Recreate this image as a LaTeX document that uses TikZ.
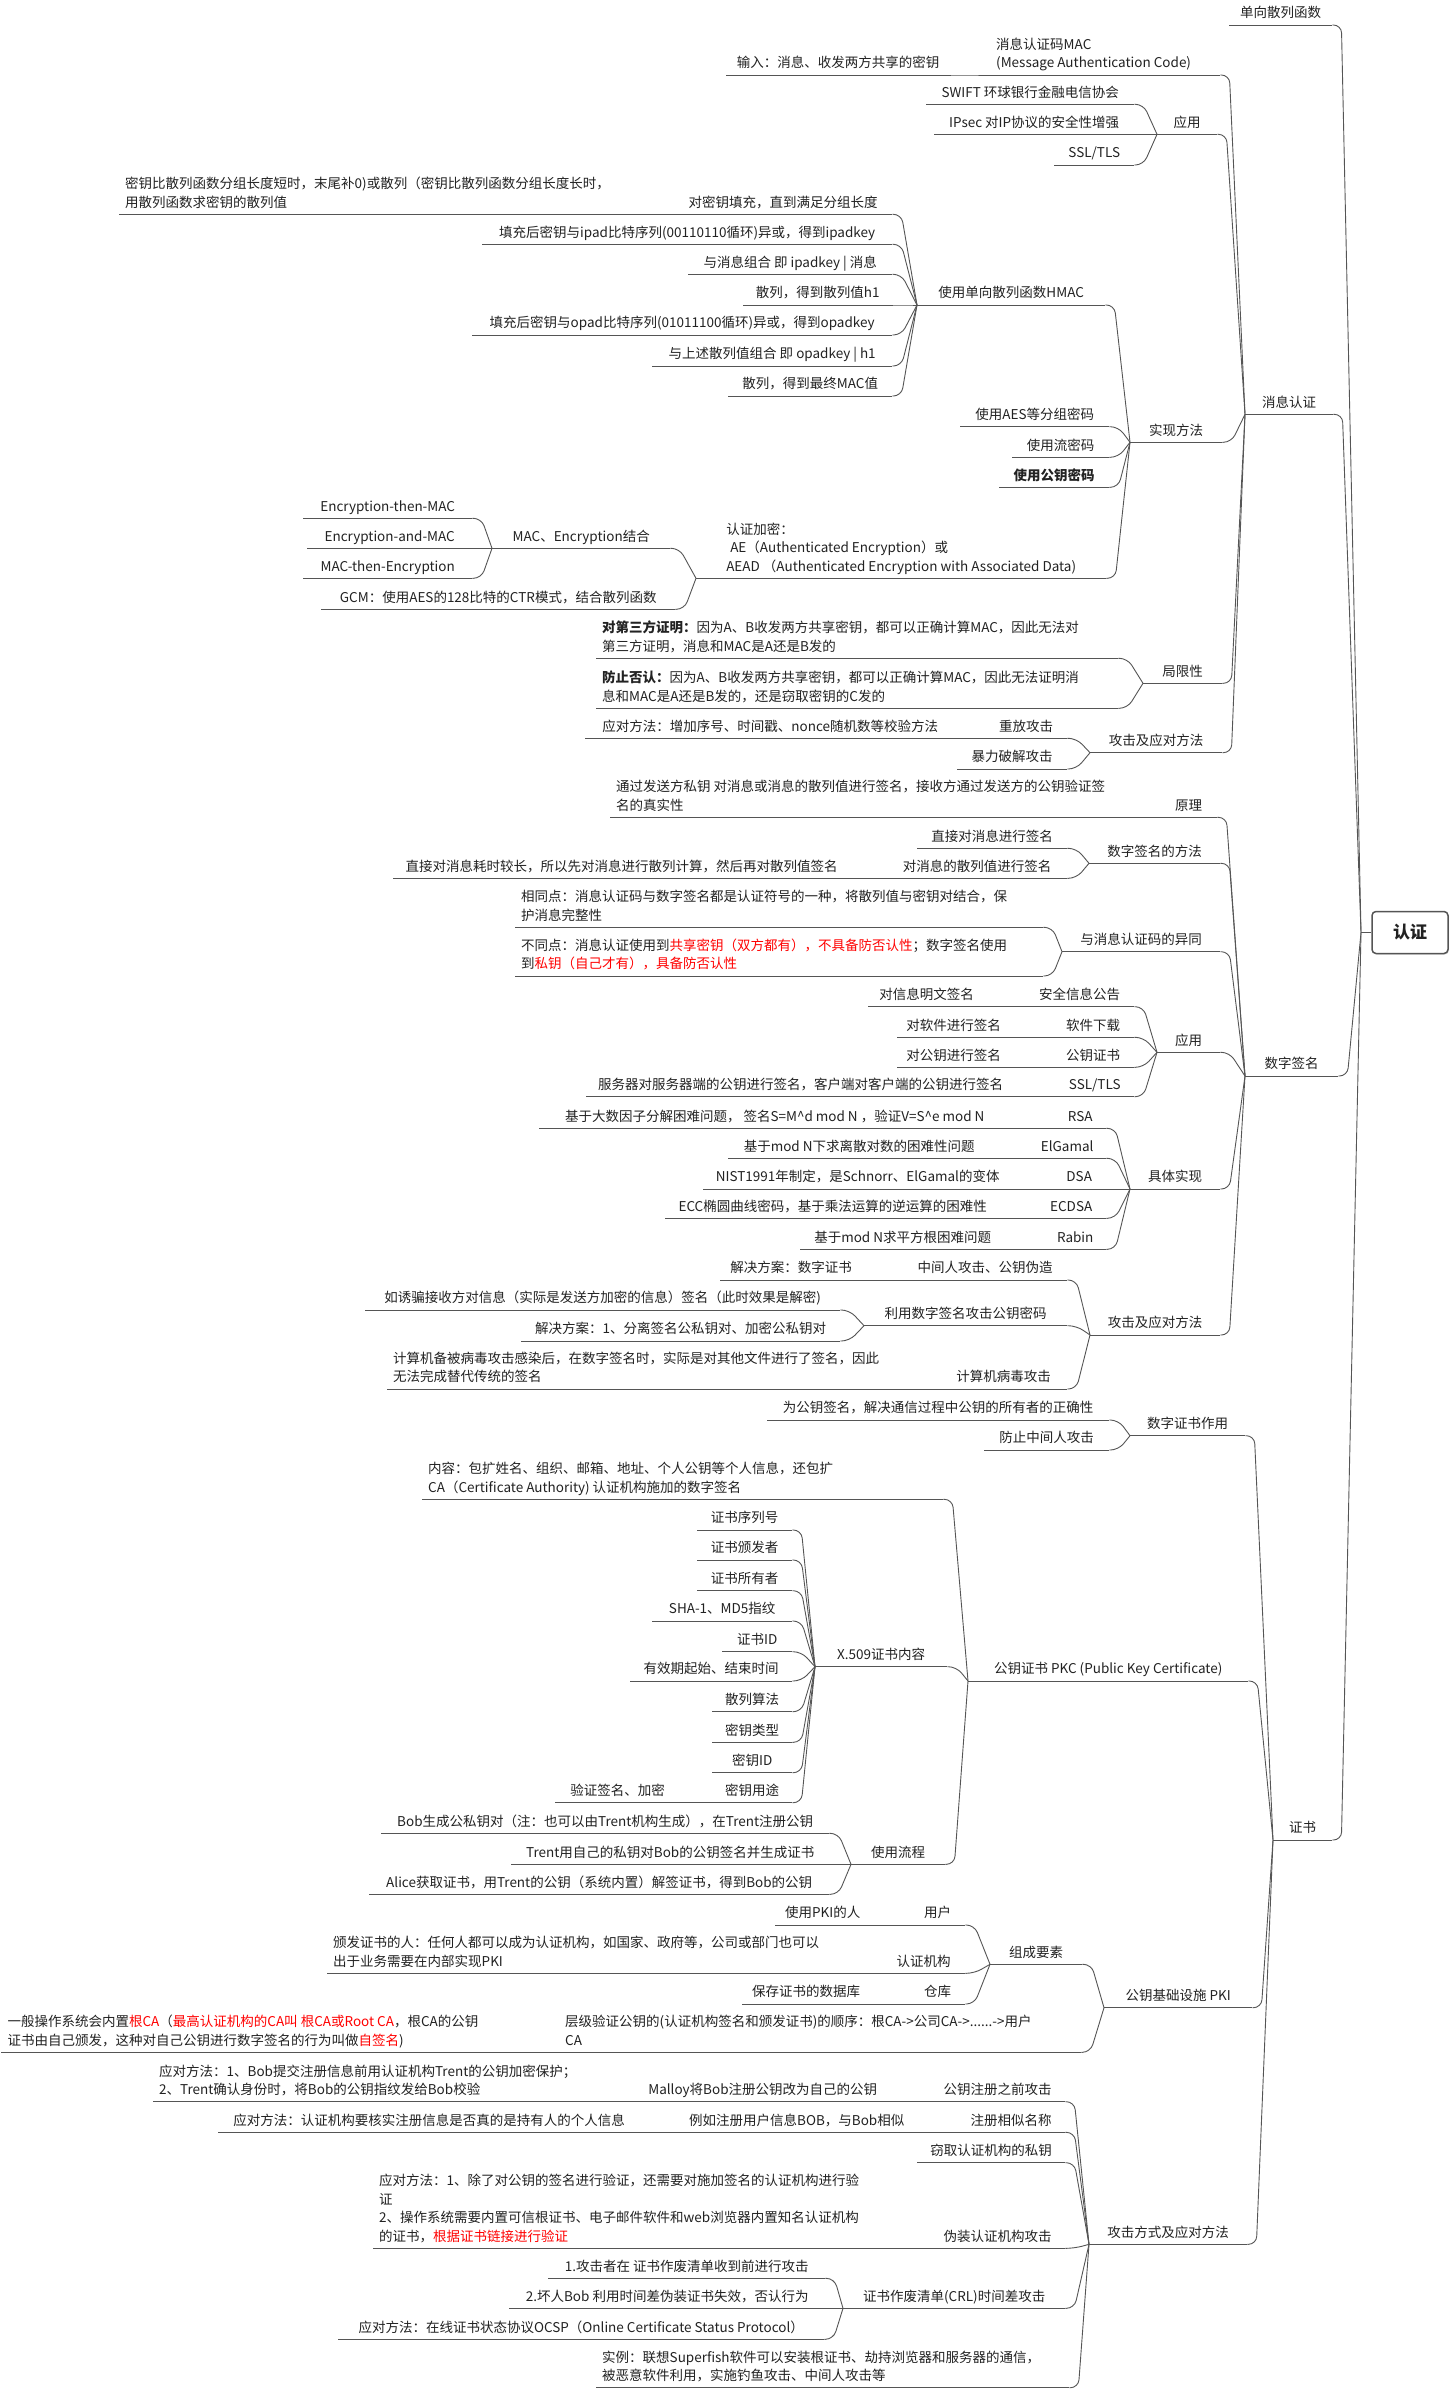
\documentclass[tikz,border=0pt]{standalone}
\usepackage{fontspec}
\setmainfont{Noto Sans CJK SC}
\usetikzlibrary{shadows}

\definecolor{lineGray}{HTML}{555555}
\definecolor{textGray}{HTML}{222222}
\definecolor{hlRed}{HTML}{FF0000}
\newcommand{\mapfont}{\fontsize{13.5}{18.4}\selectfont}
\newcommand{\hl}[1]{\textcolor{hlRed}{#1}}
\newcommand{\textblock}[2]{\parbox[b]{#1}{#2}}

\begin{document}
\begin{tikzpicture}[
        x=1pt, y=-1pt,
        topicNode/.style={
            anchor=south west,
            align=left,
            inner xsep=6pt,
            inner ysep=3pt,
            text depth=4pt,
            font=\mapfont,
            text=textGray,
            minimum width=#1,
            append after command={
                (\tikzlastnode.south west) edge[underLine] (\tikzlastnode.south east)
            }
        },
        underLine/.style={
            draw=lineGray,
            line width=0.9pt
        },
        branchLine/.style={
            draw=lineGray,
            line width=0.9pt,
            rounded corners=8pt
        },
        rootNode/.style={
            draw=lineGray,
            line width=1.5pt,
            rounded corners=4pt,
            fill=white,
            drop shadow={shadow xshift=1pt, shadow yshift=-1pt, opacity=0.25},
            minimum width=76,
            minimum height=42,
            font=\fontsize{17}{20}\selectfont\bfseries,
            text=textGray
        }
    ]

    \fill[white] (0,0) rectangle (1450,2389);
    \useasboundingbox (0,0) rectangle (1450,2389);

    % Root
    \node[rootNode] (root) at (1410,932.5) {认证};
    \coordinate (hub) at (1361,932.5);

    % Hash function
    \node[topicNode=103] (hash) at (1229,25) {单向散列函数};

    % Message authentication
    \node[topicNode=88] (msgauth) at (1245,414.3) {消息认证};
    \node[topicNode=230] (mac) at (990,75) {\textblock{218pt}{消息认证码MAC\\(Message Authentication Code)}};
    \node[topicNode=224] (macin) at (726,75) {输入：消息、收发两方共享的密钥};
    \node[topicNode=60] (macapp) at (1157,134.3) {应用};
    \node[topicNode=208] (swift) at (926,104.3) {SWIFT 环球银行金融电信协会};
    \node[topicNode=200] (ipsec) at (934,134.3) {IPsec 对IP协议的安全性增强};
    \node[topicNode=80] (ssl) at (1054,165) {SSL/TLS};
    \node[topicNode=92] (impl) at (1130,442.3) {实现方法};
    \node[topicNode=188] (hmac) at (917,305) {使用单向散列函数HMAC};
    \node[topicNode=218] (pad) at (674,214.3) {对密钥填充，直到满足分组长度};
    \node[topicNode=531] (padnote) at (119,214.3) {\textblock{519pt}{密钥比散列函数分组长度短时，末尾补0)或散列（密钥比散列函数分组长度长时，\\用散列函数求密钥的散列值}};
    \node[topicNode=410] (ipad) at (482,244.3) {填充后密钥与ipad比特序列(00110110循环)异或，得到ipadkey};
    \node[topicNode=204] (ipadmsg) at (688,274.3) {与消息组合 即 ipadkey | 消息};
    \node[topicNode=149] (h1) at (743,305) {散列，得到散列值h1};
    \node[topicNode=420] (opad) at (472,335) {填充后密钥与opad比特序列(01011100循环)异或，得到opadkey};
    \node[topicNode=240] (opadh1) at (652,366) {与上述散列值组合 即 opadkey | h1};
    \node[topicNode=164] (final) at (728,396) {散列，得到最终MAC值};
    \node[topicNode=149] (aes) at (960,426.7) {使用AES等分组密码};
    \node[topicNode=97] (stream) at (1012,457.3) {使用流密码};
    \node[topicNode=110] (pubkey) at (999,487.3) {\textbf{使用公钥密码}};
    \node[topicNode=410] (aead) at (696,578.3) {认证加密：\\\hspace{4pt}AE（Authenticated Encryption）或\\AEAD （Authenticated Encryption with Associated Data)};
    \node[topicNode=178] (combine) at (492,548.3) {MAC、Encryption结合};
    \node[topicNode=354] (gcm) at (321,609.3) {GCM：使用AES的128比特的CTR模式，结合散列函数};
    \node[topicNode=169] (etm) at (303,518.3) {Encryption-then-MAC};
    \node[topicNode=165] (eam) at (307,548.3) {Encryption-and-MAC};
    \node[topicNode=169] (mte) at (303,578.3) {MAC-then-Encryption};
    \node[topicNode=79] (limit) at (1143,683.3) {局限性};
    \node[topicNode=522] (thirdp) at (596,658.3) {\textblock{510pt}{\textbf{对第三方证明：}因为A、B收发两方共享密钥，都可以正确计算MAC，因此无法对\\第三方证明，消息和MAC是A还是B发的}};
    \node[topicNode=522] (nonrep) at (596,708.3) {\textblock{510pt}{\textbf{防止否认：}因为A、B收发两方共享密钥，都可以正确计算MAC，因此无法证明消\\息和MAC是A还是B发的，还是窃取密钥的C发的}};
    \node[topicNode=132] (mattack) at (1090,752.7) {攻击及应对方法};
    \node[topicNode=82] (replay) at (985,738.3) {重放攻击};
    \node[topicNode=370] (replayfix) at (585,738.3) {应对方法：增加序号、时间戳、nonce随机数等校验方法};
    \node[topicNode=110] (brute) at (957,769) {暴力破解攻击};

    % Digital signature
    \node[topicNode=93] (digsig) at (1245,1076) {数字签名};
    \node[topicNode=57] (principle) at (1160,817.3) {原理};
    \node[topicNode=520] (princtext) at (610,817.3) {\textblock{508pt}{通过发送方私钥 对消息或消息的散列值进行签名，接收方通过发送方的公钥验证签\\名的真实性}};
    \node[topicNode=131] (dsmethod) at (1089,863.3) {数字签名的方法};
    \node[topicNode=150] (direct) at (917,848.3) {直接对消息进行签名};
    \node[topicNode=180] (hashsign) at (887,878.3) {对消息的散列值进行签名};
    \node[topicNode=457] (hashwhy) at (393,878.3) {直接对消息耗时较长，所以先对消息进行散列计算，然后再对散列值签名};
    \node[topicNode=158] (diff) at (1062,951.7) {与消息认证码的异同};
    \node[topicNode=528] (same) at (515,927.3) {\textblock{516pt}{相同点：消息认证码与数字签名都是认证符号的一种，将散列值与密钥对结合，保\\护消息完整性}};
    \node[topicNode=528] (differ) at (515,976) {\textblock{516pt}{不同点：消息认证使用到\hl{共享密钥（双方都有），不具备防否认性}；数字签名使用\\到\hl{私钥（自己才有），具备防否认性}}};
    \node[topicNode=63] (dsapp) at (1157,1052.3) {应用};
    \node[topicNode=109] (secinfo) at (1025,1006.7) {安全信息公告};
    \node[topicNode=117] (plainsign) at (868,1006.7) {对信息明文签名};
    \node[topicNode=82] (softdl) at (1052,1037.3) {软件下载};
    \node[topicNode=113] (softsign) at (897,1037.3) {对软件进行签名};
    \node[topicNode=82] (pkcert) at (1052,1067.3) {公钥证书};
    \node[topicNode=113] (pksign) at (897,1067.3) {对公钥进行签名};
    \node[topicNode=79] (dsssl) at (1055,1096.7) {SSL/TLS};
    \node[topicNode=429] (serversign) at (586,1096.7) {服务器对服务器端的公钥进行签名，客户端对客户端的公钥进行签名};
    \node[topicNode=90] (dsimpl) at (1130,1189) {具体实现};
    \node[topicNode=52] (rsa) at (1054,1128.3) {RSA};
    \node[topicNode=471] (rsanote) at (539,1128.3) {基于大数因子分解困难问题， 签名S=M\textasciicircum d mod N ，验证V=S\textasciicircum e mod N};
    \node[topicNode=78] (elgamal) at (1028,1158.3) {ElGamal};
    \node[topicNode=262] (elgnote) at (728,1158.3) {基于mod N下求离散对数的困难性问题};
    \node[topicNode=54] (dsa) at (1052,1189) {DSA};
    \node[topicNode=309] (dsanote) at (703,1189) {NIST1991年制定，是Schnorr、ElGamal的变体};
    \node[topicNode=70] (ecdsa) at (1036,1218.3) {ECDSA};
    \node[topicNode=335] (eccnote) at (665,1218.3) {ECC椭圆曲线密码，基于乘法运算的逆运算的困难性};
    \node[topicNode=62] (rabin) at (1044,1249.3) {Rabin};
    \node[topicNode=205] (rabinnote) at (800,1249.3) {基于mod N求平方根困难问题};
    \node[topicNode=130] (dsattack) at (1090,1335) {攻击及应对方法};
    \node[topicNode=164] (mitm) at (903,1280) {中间人攻击、公钥伪造};
    \node[topicNode=142] (mitmfix) at (720,1280) {解决方案：数字证书};
    \node[topicNode=203] (sigattack) at (864,1325.7) {利用数字签名攻击公钥密码};
    \node[topicNode=475] (trick) at (365,1310) {如诱骗接收方对信息（实际是发送方加密的信息）签名（此时效果是解密)};
    \node[topicNode=319] (split) at (521,1341) {解决方案：1、分离签名公私钥对、加密公私钥对};
    \node[topicNode=127] (virus) at (940,1389) {计算机病毒攻击};
    \node[topicNode=513] (virusnote) at (387,1389) {\textblock{501pt}{计算机备被病毒攻击感染后，在数字签名时，实际是对其他文件进行了签名，因此\\无法完成替代传统的签名}};

    % Certificates
    \node[topicNode=59] (cert) at (1273,1840) {证书};
    \node[topicNode=115] (dcrole) at (1130,1435.7) {数字证书作用};
    \node[topicNode=342] (signpk) at (767,1420) {为公钥签名，解决通信过程中公钥的所有者的正确性};
    \node[topicNode=125] (antimitm) at (984,1450) {防止中间人攻击};
    \node[topicNode=280] (pkc) at (968,1681) {公钥证书 PKC (Public Key Certificate)};
    \node[topicNode=521] (content) at (422,1499.3) {\textblock{509pt}{内容：包扩姓名、组织、邮箱、地址、个人公钥等个人信息，还包扩\\CA（Certificate Authority) 认证机构施加的数字签名}};
    \node[topicNode=132] (x509) at (815,1666.7) {X.509证书内容};
    \node[topicNode=95] (serial) at (697,1530) {证书序列号};
    \node[topicNode=95] (issuer) at (697,1560) {证书颁发者};
    \node[topicNode=95] (owner) at (697,1590.7) {证书所有者};
    \node[topicNode=140] (sha) at (652,1621) {SHA-1、MD5指纹};
    \node[topicNode=70] (certid) at (722,1651.7) {证书ID};
    \node[topicNode=162] (validity) at (630,1681) {有效期起始、结束时间};
    \node[topicNode=80] (hashalg) at (712,1711.7) {散列算法};
    \node[topicNode=80] (keytype) at (712,1742.3) {密钥类型};
    \node[topicNode=80] (keyid) at (712,1772.7) {密钥ID};
    \node[topicNode=80] (keyuse) at (712,1802.7) {密钥用途};
    \node[topicNode=125] (verify) at (555,1802.7) {验证签名、加密};
    \node[topicNode=94] (usage) at (851,1864.3) {使用流程};
    \node[topicNode=448] (bobgen) at (381,1833.3) {Bob生成公私钥对（注：也可以由Trent机构生成），在Trent注册公钥};
    \node[topicNode=318] (trentsign) at (511,1864.3) {Trent用自己的私钥对Bob的公钥签名并生成证书};
    \node[topicNode=460] (alice) at (369,1894.3) {Alice获取证书，用Trent的公钥（系统内置）解签证书，得到Bob的公钥};
    \node[topicNode=148] (pki) at (1104,2007.7) {公钥基础设施 PKI};
    \node[topicNode=92] (elements) at (990,1964.3) {组成要素};
    \node[topicNode=55] (user) at (910,1925) {用户};
    \node[topicNode=95] (pkiuser) at (775,1925) {使用PKI的人};
    \node[topicNode=83] (ca) at (882,1973.3) {认证机构};
    \node[topicNode=533] (canote) at (327,1973.3) {\textblock{521pt}{颁发证书的人：任何人都可以成为认证机构，如国家、政府等，公司或部门也可以\\出于业务需要在内部实现PKI}};
    \node[topicNode=55] (repo) at (910,2004) {仓库};
    \node[topicNode=128] (repodb) at (742,2004) {保存证书的数据库};
    \node[topicNode=522] (hierarchy) at (559,2052.3) {\textblock{510pt}{层级验证公钥的(认证机构签名和颁发证书)的顺序：根CA->公司CA->......->用户\\CA}};
    \node[topicNode=509] (rootca) at (1.4,2052.3) {\textblock{497pt}{一般操作系统会内置\hl{根CA}（\hl{最高认证机构的CA叫 根CA或Root CA}，根CA的公钥\\证书由自己颁发，这种对自己公钥进行数字签名的行为叫做\hl{自签名})}};
    \node[topicNode=158] (cattack) at (1089,2244.3) {攻击方式及应对方法};
    \node[topicNode=135] (prereg) at (930,2101.7) {公钥注册之前攻击};
    \node[topicNode=255] (malloy) at (635,2101.7) {Malloy将Bob注册公钥改为自己的公钥};
    \node[topicNode=447] (preregfix) at (153,2101.7) {\textblock{435pt}{应对方法：1、Bob提交注册信息前用认证机构Trent的公钥加密保护；\\2、Trent确认身份时，将Bob的公钥指纹发给Bob校验}};
    \node[topicNode=108] (similar) at (957,2132.3) {注册相似名称};
    \node[topicNode=237] (example) at (678,2132.3) {例如注册用户信息BOB，与Bob相似};
    \node[topicNode=422] (similarfix) at (218,2132.3) {应对方法：认证机构要核实注册信息是否真的是持有人的个人信息};
    \node[topicNode=148] (steal) at (917,2162.7) {窃取认证机构的私钥};
    \node[topicNode=135] (fakeca) at (930,2248.3) {伪装认证机构攻击};
    \node[topicNode=512] (fakecafix) at (373,2248.3) {\textblock{500pt}{应对方法：1、除了对公钥的签名进行验证，还需要对施加签名的认证机构进行验\\证\\2、操作系统需要内置可信根证书、电子邮件软件和web浏览器内置知名认证机构\\的证书，\hl{根据证书链接进行验证}}};
    \node[topicNode=222] (crl) at (843,2308.3) {证书作废清单(CRL)时间差攻击};
    \node[topicNode=277] (crl1) at (548,2278.3) {1.攻击者在 证书作废清单收到前进行攻击};
    \node[topicNode=316] (crl2) at (509,2308.3) {2.坏人Bob 利用时间差伪装证书失效，否认行为};
    \node[topicNode=486] (ocsp) at (338,2339.3) {应对方法：在线证书状态协议OCSP（Online Certificate Status Protocol）};
    \node[topicNode=473] (superfish) at (596,2387.7) {\textblock{461pt}{实例：联想Superfish软件可以安装根证书、劫持浏览器和服务器的通信，\\被恶意软件利用，实施钓鱼攻击、中间人攻击等}};

    % Branches into the root
    \foreach \kid in {hash,msgauth,digsig,cert}
        \draw[branchLine] (\kid.south east) -- ++(9,0) -- (hub);
    \draw[branchLine] (hub) -- (root.west);

    % Branches: parent / children
    \foreach \pnode/\kids in {msgauth/{mac,macapp,impl,limit,mattack},
        mac/{macin}, macapp/{swift,ipsec,ssl},
        impl/{hmac,aes,stream,pubkey,aead},
        hmac/{pad,ipad,ipadmsg,h1,opad,opadh1,final}, pad/{padnote},
        aead/{combine,gcm}, combine/{etm,eam,mte},
        limit/{thirdp,nonrep}, mattack/{replay,brute}, replay/{replayfix},
        digsig/{principle,dsmethod,diff,dsapp,dsimpl,dsattack},
        principle/{princtext}, dsmethod/{direct,hashsign}, hashsign/{hashwhy},
        diff/{same,differ}, dsapp/{secinfo,softdl,pkcert,dsssl},
        secinfo/{plainsign}, softdl/{softsign}, pkcert/{pksign}, dsssl/{serversign},
        dsimpl/{rsa,elgamal,dsa,ecdsa,rabin},
        rsa/{rsanote}, elgamal/{elgnote}, dsa/{dsanote}, ecdsa/{eccnote}, rabin/{rabinnote},
        dsattack/{mitm,sigattack,virus}, mitm/{mitmfix}, sigattack/{trick,split}, virus/{virusnote},
        cert/{dcrole,pkc,pki,cattack}, dcrole/{signpk,antimitm},
        pkc/{content,x509,usage},
        x509/{serial,issuer,owner,sha,certid,validity,hashalg,keytype,keyid,keyuse}, keyuse/{verify},
        usage/{bobgen,trentsign,alice},
        pki/{elements,hierarchy}, elements/{user,ca,repo},
        user/{pkiuser}, ca/{canote}, repo/{repodb}, hierarchy/{rootca},
        cattack/{prereg,similar,steal,fakeca,crl,superfish},
        prereg/{malloy}, malloy/{preregfix}, similar/{example}, example/{similarfix},
        fakeca/{fakecafix}, crl/{crl1,crl2,ocsp}}
    {
        \foreach \kid in \kids
            \draw[branchLine] (\kid.south east) -- ++(9,0) -- (\pnode.south west);
    }

\end{tikzpicture}
\end{document}
